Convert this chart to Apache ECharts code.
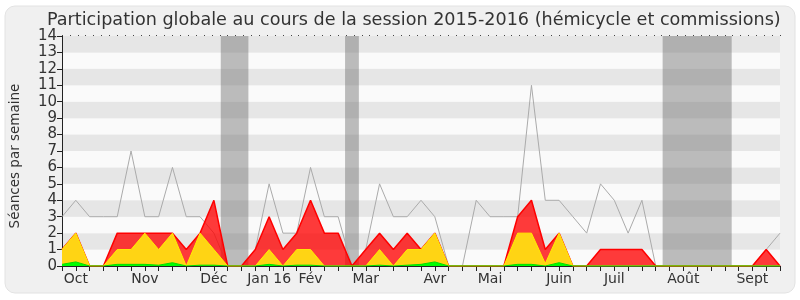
<!DOCTYPE html>
<html>
<head>
<meta charset="utf-8">
<script src="https://cdn.jsdelivr.net/npm/echarts@6/dist/echarts.min.js"></script>
<style>
  html, body { margin: 0; padding: 0; background: #ffffff; }
  #chart { width: 800px; height: 300px; }
</style>
</head>
<body>
<div id="chart"></div>
<script>
// semaines de la session (index 0 = fin sept 2015)
const weeks = Array.from({length: 53}, (_, i) => i)
// libellés des mois, placés sur la semaine correspondante
const monthLabels = {1: 'Oct', 6: 'Nov', 11: 'Déc', 15: 'Jan 16', 18: 'Fév', 22: 'Mar',
  27: 'Avr', 31: 'Mai', 36: 'Juin', 40: 'Juil', 45: 'Août', 50: 'Sept'}
// séances totales (ligne grise)
const totalSeances = [3,4,3,3,3,7,3,3,6,3,3,2,0,0,1,5,2,2,6,3,3,0,1,5,3,3,4,3,0,0,4,3,3,3,11,4,4,3,2,5,4,2,4,0,0,0,0,0,0,0,0,1,2]
// présences (rouge)
const presences = [1,2,0,0,2,2,2,2,2,1,2,4,0,0,1,3,1,2,4,2,2,0,1,2,1,2,1,2,0,0,0,0,0,3,4,1,2,0,0,1,1,1,1,0,0,0,0,0,0,0,0,1,0]
// participations (jaune)
const participations = [1,2,0,0,1,1,2,1,2,0,2,1,0,0,0,1,0,1,1,0,0,0,0,1,0,1,1,2,0,0,0,0,0,2,2,0.15,2,0,0,0,0,0,0,0,0,0,0,0,0,0,0,0,0]
// interventions (vert)
const interventions = [0.1,0.25,0,0,0.1,0.1,0.1,0.05,0.2,0,0.05,0.05,0,0,0,0.1,0,0.05,0.05,0,0,0,0,0.05,0,0.05,0.1,0.25,0,0,0,0,0,0.1,0.1,0,0.2,0,0,0,0,0,0,0,0,0,0,0,0,0,0,0,0]
// vacances parlementaires (en semaines)
const vacances = [[11.5, 13.5], [20.5, 21.5], [43.5, 48.5]]

const pts = arr => weeks.map(i => [i, arr[i]])

const chart = echarts.init(document.getElementById('chart'))
const font = 'DejaVu Sans'

const option = {
  animation: false,
  backgroundColor: 'transparent',
  textStyle: {fontFamily: font},
  graphic: [{
    type: 'rect', z: -10, silent: true,
    shape: {x: 5, y: 6, width: 790, height: 287, r: 10},
    style: {fill: '#f0f0f0', stroke: '#e2e2e2', lineWidth: 1}
  }],
  title: {
    text: 'Participation globale au cours de la session 2015-2016 (hémicycle et commissions)',
    left: 42, top: 6,
    textStyle: {fontFamily: font, fontSize: 17.6, fontWeight: 'normal', color: '#333'}
  },
  grid: {left: 62, right: 20, top: 36, bottom: 34},
  xAxis: [{
    type: 'value', min: 0, max: 52, interval: 1,
    axisLine: {show: true, lineStyle: {color: '#222'}},
    axisTick: {show: true, length: 5, lineStyle: {color: '#222'}},
    axisLabel: {
      color: '#333', fontSize: 14, fontFamily: font, margin: 6,
      formatter: v => monthLabels[v] || ''
    },
    splitLine: {show: false}
  }, {
    type: 'value', position: 'top', min: 0, max: 52, interval: 4 / 7,
    axisLine: {show: false},
    axisTick: {show: true, length: 1, lineStyle: {color: '#444'}},
    axisLabel: {show: false},
    splitLine: {show: false}
  }],
  yAxis: {
    type: 'value', min: 0, max: 14, interval: 1,
    name: 'Séances par semaine', nameLocation: 'middle', nameGap: 40,
    nameTextStyle: {color: '#333', fontSize: 13.5, fontFamily: font, padding: [0, 10, 0, 0]},
    axisLine: {show: true, lineStyle: {color: '#222'}},
    axisTick: {show: true, length: 5, lineStyle: {color: '#222'}},
    axisLabel: {color: '#333', fontSize: 15, fontFamily: font, margin: 5},
    splitLine: {show: false},
    splitArea: {show: true, areaStyle: {color: ['#fafafa', '#e6e6e6']}}
  },
  series: [
    {
      type: 'line', name: 'vacances', z: 1, data: [], silent: true,
      markArea: {
        silent: true,
        itemStyle: {color: 'rgba(110,110,110,0.45)'},
        data: vacances.map(v => [{xAxis: v[0]}, {xAxis: v[1]}])
      }
    },
    {
      type: 'line', name: 'Séances', z: 2, data: pts(totalSeances),
      showSymbol: false, lineStyle: {color: '#aaaaaa', width: 1}
    },
    {
      type: 'line', name: 'Présences', z: 3, data: pts(presences),
      showSymbol: false,
      lineStyle: {color: '#ff0000', width: 1.5},
      areaStyle: {color: 'rgba(255,0,0,0.77)', opacity: 1}
    },
    {
      type: 'line', name: 'Participations', z: 4, data: pts(participations),
      showSymbol: false,
      lineStyle: {color: '#ffee00', width: 1},
      areaStyle: {color: '#ffd414', opacity: 1}
    },
    {
      type: 'line', name: 'Interventions', z: 5, data: pts(interventions),
      showSymbol: false,
      lineStyle: {color: '#00dd00', width: 1},
      areaStyle: {color: '#00ff00', opacity: 1}
    }
  ]
}

chart.setOption(option)
</script>
</body>
</html>
